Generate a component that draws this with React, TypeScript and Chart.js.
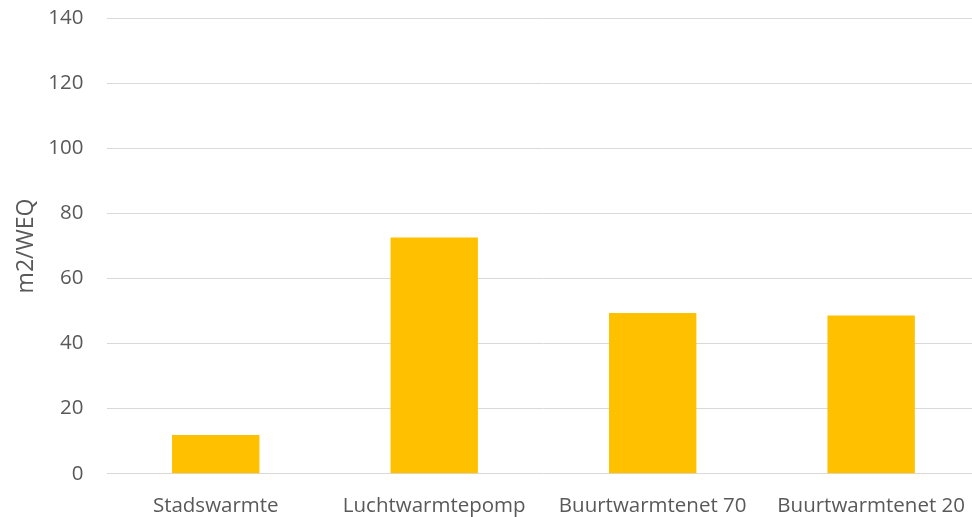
import React, { useEffect, useRef } from "react";
import { Chart, registerables } from "chart.js";

Chart.register(...registerables);

const categories = ["Stadswarmte", "Luchtwarmtepomp", "Buurtwarmtenet 70", "Buurtwarmtenet 20"];
const values = [11.9, 72.6, 49.4, 48.6];
const yTitle = "m2/WEQ";
const yMin = 0;
const yMax = 140;
const yStep = 20;

export default function App() {
  const ref = useRef<HTMLCanvasElement | null>(null);
  useEffect(() => {
    document.documentElement.style.overflow = "hidden";
    document.body.style.margin = "0";
    document.body.style.overflow = "hidden";
    const ctx = ref.current!;
    const font = { family: "'Open Sans', 'Noto Sans', sans-serif", size: 20.5 };
    const titleFont = { family: "'Open Sans', 'Noto Sans', sans-serif", size: 23 };
    const chart = new Chart(ctx, {
      type: "bar",
      data: {
        labels: categories,
        datasets: [
          {
            data: values,
            backgroundColor: "#FFC000",
            barPercentage: 0.4,
            categoryPercentage: 1,
          },
        ],
      },
      options: {
        animation: false,
        responsive: false,
        maintainAspectRatio: false,
        layout: { padding: { top: 0, left: 0, right: 0, bottom: 0 } },
        plugins: { legend: { display: false }, tooltip: { enabled: false } },
        scales: {
          x: {
            grid: { display: false, drawTicks: false },
            border: { display: false },
            ticks: { color: "#595959", font, padding: 20, maxRotation: 0, autoSkip: false },
            afterFit: (s: any) => {
              s.height = 43.3;
            },
          },
          y: {
            min: yMin,
            max: yMax,
            ticks: { stepSize: yStep, color: "#595959", font, padding: 23 },
            grid: { color: "#d9d9d9", lineWidth: 1, drawTicks: false },
            border: { display: false },
            title: { display: true, text: yTitle, color: "#595959", font: titleFont, padding: { top: 13, bottom: 0 } },
            afterFit: (s: any) => {
              s.width = 106.5;
            },
          },
        },
      },
    });
    return () => chart.destroy();
  }, []);
  return (
    <div style={{ position: "absolute", left: 0, top: -17, width: 985, height: 534 }}>
      <canvas ref={ref} width={985} height={534} style={{ display: "block" }} />
    </div>
  );
}
